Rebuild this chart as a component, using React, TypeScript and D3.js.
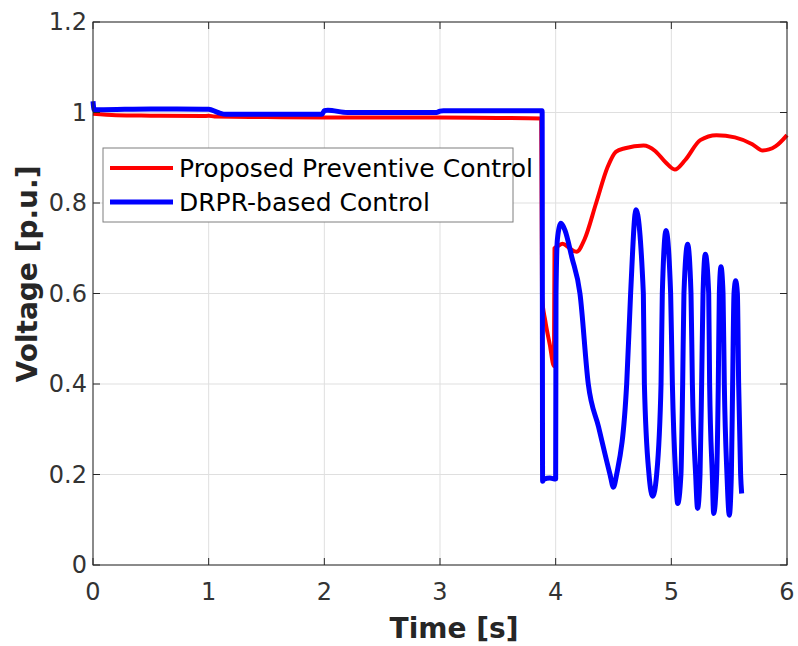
import React from "react";
import * as d3 from "d3";

const xTicks = [0, 1, 2, 3, 4, 5, 6];
const yTicks = [0, 0.2, 0.4, 0.6, 0.8, 1, 1.2];
const yTickLabels = ["0", "0.2", "0.4", "0.6", "0.8", "1", "1.2"];

const redT = [0, 0.2, 0.5, 0.95, 1.0, 1.05, 1.5, 2, 2.5, 3, 3.5, 3.875, 3.882, 3.91, 3.95, 3.985, 3.99, 4.02, 4.06, 4.12, 4.18, 4.25, 4.35, 4.45, 4.52, 4.6, 4.76, 4.86, 4.95, 5.03, 5.12, 5.25, 5.39, 5.55, 5.7, 5.79, 5.9, 6.0];
const redV = [0.997, 0.994, 0.993, 0.992, 0.993, 0.991, 0.990, 0.989, 0.989, 0.989, 0.988, 0.987, 0.593, 0.54, 0.486, 0.44, 0.70, 0.705, 0.71, 0.70, 0.692, 0.72, 0.80, 0.88, 0.913, 0.921, 0.927, 0.915, 0.89, 0.874, 0.895, 0.939, 0.950, 0.945, 0.93, 0.916, 0.925, 0.950];

const blueT = [0, 0.01, 0.05, 0.5, 0.95, 1.0, 1.08, 1.15, 1.5, 1.98, 2.0, 2.03, 2.2, 2.5, 2.97, 3.0, 3.03, 3.5, 3.883, 3.887, 3.9, 3.95, 4.0, 4.003, 4.015, 4.046, 4.08, 4.14, 4.21, 4.282, 4.37, 4.47, 4.499, 4.527, 4.614, 4.648, 4.694, 4.758, 4.767, 4.807, 4.839, 4.873, 4.911, 4.922, 4.954, 4.994, 5.009, 5.037, 5.055, 5.083, 5.098, 5.109, 5.141, 5.170, 5.182, 5.210, 5.227, 5.248, 5.262, 5.274, 5.294, 5.323, 5.331, 5.354, 5.366, 5.392, 5.406, 5.415, 5.429, 5.447, 5.458, 5.481, 5.501, 5.519, 5.530, 5.542, 5.556, 5.571, 5.582, 5.599, 5.608];
const blueV = [1.025, 1.006, 1.006, 1.008, 1.007, 1.007, 1.0, 0.996, 0.996, 0.996, 1.004, 1.005, 1.0, 1.0, 1.0, 1.003, 1.004, 1.004, 1.004, 0.185, 0.19, 0.192, 0.19, 0.6, 0.72, 0.755, 0.74, 0.68, 0.6, 0.4, 0.306, 0.2, 0.172, 0.2, 0.4, 0.6, 0.785, 0.6, 0.4, 0.2, 0.152, 0.2, 0.4, 0.6, 0.739, 0.6, 0.4, 0.2, 0.136, 0.2, 0.4, 0.6, 0.709, 0.6, 0.4, 0.2, 0.125, 0.2, 0.4, 0.6, 0.687, 0.6, 0.4, 0.2, 0.114, 0.2, 0.4, 0.6, 0.659, 0.6, 0.4, 0.2, 0.11, 0.2, 0.4, 0.6, 0.628, 0.6, 0.4, 0.2, 0.158];

const seriesNames = ["Proposed Preventive Control", "DRPR-based Control"];
const seriesColors = ["#ff0000", "#0000ff"];

const W = 798;
const H = 646;
const M = { left: 93, right: 787, top: 22, bottom: 565 };

export default function App() {
  const x = d3.scaleLinear().domain([0, 6]).range([M.left, M.right]);
  const y = d3.scaleLinear().domain([0, 1.2]).range([M.bottom, M.top]);
  const line = d3
    .line<[number, number]>()
    .x((d) => x(d[0]))
    .y((d) => y(d[1]))
    .curve(d3.curveMonotoneX);
  const red = redT.map((t, i) => [t, redV[i]] as [number, number]);
  const blue = blueT.map((t, i) => [t, blueV[i]] as [number, number]);
  const axisColor = "#262626";
  const font = "'DejaVu Sans', sans-serif";

  return (
    <svg width={W} height={H} style={{ position: "absolute", left: 0, top: 0, background: "#fff" }}>
      <rect x={0} y={0} width={W} height={H} fill="#fff" />
      {xTicks.map((t) => (
        <line key={"gx" + t} x1={x(t)} x2={x(t)} y1={M.top} y2={M.bottom} stroke="#dfdfdf" strokeWidth={1} />
      ))}
      {yTicks.map((t) => (
        <line key={"gy" + t} x1={M.left} x2={M.right} y1={y(t)} y2={y(t)} stroke="#dfdfdf" strokeWidth={1} />
      ))}
      <path d={line(red) || ""} fill="none" stroke={seriesColors[0]} strokeWidth={4} strokeLinejoin="round" />
      <path d={line(blue) || ""} fill="none" stroke={seriesColors[1]} strokeWidth={5} strokeLinejoin="round" />
      <rect x={M.left} y={M.top} width={M.right - M.left} height={M.bottom - M.top} fill="none" stroke={axisColor} strokeWidth={1} />
      {xTicks.map((t) => (
        <g key={"tx" + t}>
          <line x1={x(t)} x2={x(t)} y1={M.bottom} y2={M.bottom - 7} stroke={axisColor} />
          <line x1={x(t)} x2={x(t)} y1={M.top} y2={M.top + 7} stroke={axisColor} />
          <text x={x(t)} y={600} textAnchor="middle" fontFamily={font} fontSize={24} fill="#333">
            {t}
          </text>
        </g>
      ))}
      {yTicks.map((t, i) => (
        <g key={"ty" + t}>
          <line x1={M.left} x2={M.left + 7} y1={y(t)} y2={y(t)} stroke={axisColor} />
          <line x1={M.right} x2={M.right - 7} y1={y(t)} y2={y(t)} stroke={axisColor} />
          <text x={M.left - 6} y={y(t)} dy="0.35em" textAnchor="end" fontFamily={font} fontSize={24} fill="#333">
            {yTickLabels[i]}
          </text>
        </g>
      ))}
      <text x={(M.left + M.right) / 2 + 14} y={638} textAnchor="middle" fontFamily={font} fontWeight="bold" fontSize={28} fill={axisColor}>
        Time [s]
      </text>
      <text transform={`translate(37,274) rotate(-90)`} textAnchor="middle" fontFamily={font} fontWeight="bold" fontSize={28} fill={axisColor}>
        Voltage [p.u.]
      </text>
      <rect x={103} y={148} width={410} height={74} fill="#fff" stroke="#7f7f7f" strokeWidth={1} />
      {seriesNames.map((n, i) => (
        <g key={n}>
          <line x1={110} x2={173} y1={168 + i * 34} y2={168 + i * 34} stroke={seriesColors[i]} strokeWidth={i === 0 ? 4 : 5} />
          <text x={179} y={168 + i * 34} dy="0.35em" fontFamily={font} fontSize={25} fill="#000">
            {n}
          </text>
        </g>
      ))}
    </svg>
  );
}
